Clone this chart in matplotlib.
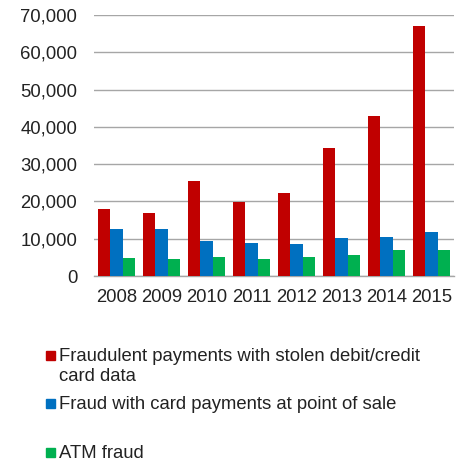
import numpy as np
import matplotlib
matplotlib.use("Agg")
import matplotlib.pyplot as plt
from matplotlib.patches import Rectangle
from matplotlib.ticker import FuncFormatter

plt.rcParams['font.family'] = ['Liberation Sans', 'DejaVu Sans']

years = ["2008", "2009", "2010", "2011", "2012", "2013", "2014", "2015"]
stolen_card_data = [18100, 17000, 25600, 19900, 22300, 34300, 42800, 67100]
point_of_sale = [12700, 12700, 9300, 8900, 8500, 10300, 10500, 11900]
atm_fraud = [4800, 4550, 5000, 4550, 5100, 5700, 6900, 6900]

labels = [["Fraudulent payments with stolen debit/credit", "card data"],
          ["Fraud with card payments at point of sale"],
          ["ATM fraud"]]
colors = ["#C00000", "#0070C0", "#00B050"]

fig = plt.figure(figsize=(4.66, 4.61), dpi=100)
ax = fig.add_axes([0.2017, 0.4013, 0.7725, 0.5662])

x = np.arange(len(years))
w = 0.278
for i, vals in enumerate([stolen_card_data, point_of_sale, atm_fraud]):
    ax.bar(x + (i - 1) * w, vals, width=w, color=colors[i], zorder=3)

ax.set_xlim(-0.5, len(years) - 0.5)
ax.set_ylim(0, 70000)
ax.set_yticks(range(0, 70001, 10000))
ax.yaxis.set_major_formatter(FuncFormatter(lambda v, p: f"{int(v):,}"))
ax.set_xticks(x)
ax.set_xticklabels(years)
ax.grid(axis='y', color='#A6A6A6', linewidth=1.0, zorder=0)
for s in ['top', 'right', 'left']:
    ax.spines[s].set_visible(False)
ax.spines['bottom'].set_color('#A6A6A6')
ax.spines['bottom'].set_linewidth(1.0)
ax.tick_params(axis='y', length=0, pad=12, labelsize=13.3, colors='#222222')
ax.tick_params(axis='x', length=0, pad=9, labelsize=13.3, colors='#222222')

# legend, laid out by hand (pixel positions)
W, H = 466, 461
square_y = [355, 403, 452]
baselines = [[361, 381], [409], [458]]
for lines, col, sy, bls in zip(labels, colors, square_y, baselines):
    fig.patches.append(Rectangle((46 / W, 1 - (sy + 4.5) / H), 9 / W, 9 / H,
                                 transform=fig.transFigure, color=col))
    for line, bl in zip(lines, bls):
        fig.text(59 / W, 1 - bl / H, line, fontsize=13.3, color='#222222',
                 va='baseline', ha='left')

fig.savefig("out.png", dpi=100)
